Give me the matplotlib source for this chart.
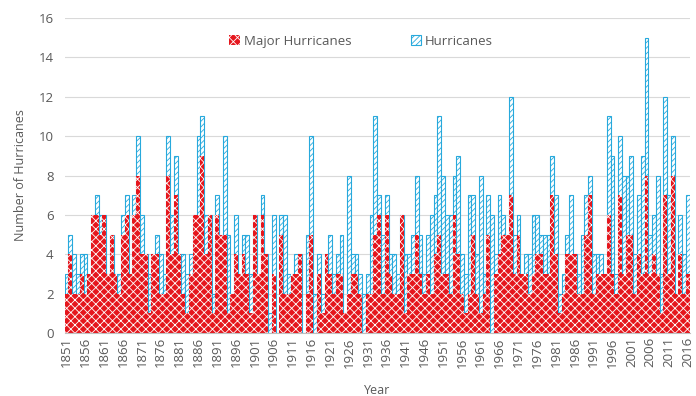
import matplotlib
matplotlib.use("Agg")
import matplotlib.pyplot as plt
import numpy as np

years = list(range(1851, 2017))

# Season counts per year (red series and cyan series)
major = [
    2, 4, 2, 2, 3, 2, 3, 6, 6, 5,   # 1851-1860
    6, 3, 5, 3, 2, 5, 6, 3, 6, 8,   # 1861-1870
    4, 4, 1, 4, 4, 2, 2, 8, 4, 7,   # 1871-1880
    4, 2, 1, 3, 6, 6, 9, 4, 6, 1,   # 1881-1890
    6, 5, 5, 1, 2, 4, 3, 4, 3, 1,   # 1891-1900
    6, 3, 6, 4, 0, 3, 0, 5, 2, 2,   # 1901-1910
    3, 3, 4, 0, 2, 5, 0, 3, 1, 4,   # 1911-1920
    3, 2, 3, 3, 1, 2, 3, 3, 2, 0,   # 1921-1930
    2, 2, 5, 6, 2, 6, 3, 2, 2, 6,   # 1931-1940
    1, 3, 3, 5, 3, 2, 3, 2, 4, 5,   # 1941-1950
    3, 3, 2, 6, 4, 2, 1, 2, 5, 2,   # 1951-1960
    1, 2, 5, 0, 3, 4, 5, 5, 7, 3,   # 1961-1970
    5, 3, 3, 2, 3, 4, 4, 3, 3, 7,   # 1971-1980
    4, 1, 2, 4, 4, 4, 2, 2, 5, 7,   # 1981-1990
    2, 3, 3, 3, 6, 3, 2, 7, 3, 5,   # 1991-2000
    5, 2, 4, 3, 8, 3, 4, 3, 1, 7,   # 2001-2010
    3, 8, 2, 4, 2, 3,               # 2011-2016
]

hurricanes = [
    3, 5, 4, 3, 4, 4, 3, 6, 7, 6,   # 1851-1860
    6, 3, 5, 3, 3, 6, 7, 3, 7, 10,  # 1861-1870
    6, 4, 3, 4, 5, 4, 3, 10, 6, 9,  # 1871-1880
    4, 4, 3, 4, 6, 10, 11, 6, 6, 2, # 1881-1890
    7, 5, 10, 5, 2, 6, 3, 5, 5, 3,  # 1891-1900
    6, 3, 7, 4, 1, 6, 0, 6, 6, 3,   # 1901-1910
    3, 4, 4, 0, 5, 10, 2, 4, 2, 4,  # 1911-1920
    5, 3, 4, 5, 1, 8, 4, 4, 3, 2,   # 1921-1930
    3, 6, 11, 7, 5, 7, 4, 4, 3, 6,  # 1931-1940
    4, 4, 5, 8, 5, 3, 5, 6, 7, 11,  # 1941-1950
    8, 6, 6, 8, 9, 4, 3, 7, 7, 4,   # 1951-1960
    8, 3, 7, 6, 4, 7, 6, 5, 12, 5,  # 1961-1970
    6, 3, 4, 4, 6, 6, 5, 5, 5, 9,   # 1971-1980
    7, 2, 3, 5, 7, 4, 3, 5, 7, 8,   # 1981-1990
    4, 4, 4, 3, 11, 9, 3, 10, 8, 8, # 1991-2000
    9, 4, 7, 9, 15, 5, 6, 8, 3, 12, # 2001-2010
    7, 10, 2, 6, 4, 7,              # 2011-2016
]

tick_years = years[::5]

RED = "#e5161d"
CYAN = "#27a9dc"
TEXT = "#595959"

plt.rcParams["font.family"] = ["Open Sans", "DejaVu Sans"]
plt.rcParams["hatch.linewidth"] = 0.6

fig = plt.figure(figsize=(6.96, 3.96), dpi=100)
ax = fig.add_axes([0.093, 0.159, 0.898, 0.7955])

x = np.arange(len(years))
ax.bar(x, hurricanes, width=1.0, facecolor="white", edgecolor=CYAN,
       linewidth=0.8, hatch="//////", label="Hurricanes", zorder=2)
ax.bar(x, major, width=1.0, facecolor=RED, edgecolor="white",
       linewidth=0, hatch="xxxx", label="Major Hurricanes", zorder=3)

ax.set_xlim(-0.5, len(years) - 0.5)
ax.set_ylim(0, 16)
ax.set_yticks(range(0, 17, 2))
ax.set_xticks([years.index(y) for y in tick_years])
ax.set_xticklabels([str(y) for y in tick_years], rotation=90)
ax.tick_params(axis="both", length=0, labelsize=9.5, colors=TEXT)
ax.tick_params(axis="x", pad=3)
ax.tick_params(axis="y", pad=8)

ax.grid(axis="y", color="#d9d9d9", linewidth=0.8, zorder=0)
ax.set_axisbelow(True)
for side in ("left", "top", "right"):
    ax.spines[side].set_visible(False)
ax.spines["bottom"].set_color("#bfbfbf")
ax.spines["bottom"].set_zorder(4)

ax.set_ylabel("Number of Hurricanes", fontsize=9, color=TEXT, labelpad=8)
ax.set_xlabel("Year", fontsize=9, color=TEXT, labelpad=12)

handles, labels = ax.get_legend_handles_labels()
order = [labels.index("Major Hurricanes"), labels.index("Hurricanes")]
fig.legend([handles[i] for i in order], [labels[i] for i in order],
           loc="center", bbox_to_anchor=(0.519, 0.896), ncol=2, frameon=False,
           fontsize=9.5, labelcolor=TEXT, handlelength=0.8, handleheight=0.8,
           handletextpad=0.3, columnspacing=4.5)

fig.savefig("out.png", dpi=100)
